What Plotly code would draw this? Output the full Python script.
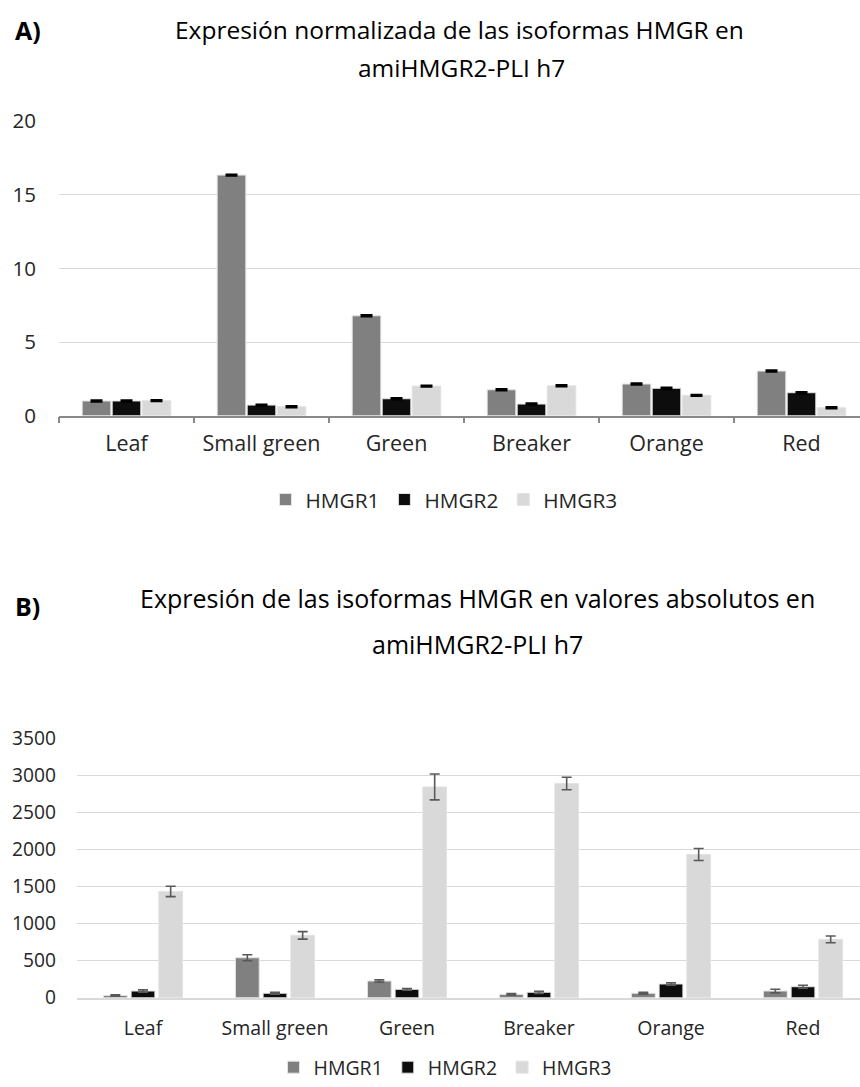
import plotly.graph_objects as go

# ---------------- data ----------------
categories = ["Leaf", "Small green", "Green", "Breaker", "Orange", "Red"]
series_names = ["HMGR1", "HMGR2", "HMGR3"]

# A) normalised expression
norm_hmgr1 = [1.0, 16.33, 6.78, 1.76, 2.15, 3.03]
norm_hmgr2 = [1.0, 0.72, 1.15, 0.79, 1.86, 1.56]
norm_hmgr3 = [1.02, 0.61, 2.01, 2.03, 1.38, 0.54]
norm_err1 = [0.04, 0.04, 0.04, 0.04, 0.04, 0.04]
norm_err2 = [0.05, 0.04, 0.05, 0.04, 0.05, 0.05]
norm_err3 = [0.04, 0.04, 0.04, 0.04, 0.04, 0.04]

# B) absolute expression
abs_hmgr1 = [30, 539, 225, 45, 60, 90]
abs_hmgr2 = [90, 60, 113, 73, 185, 148]
abs_hmgr3 = [1434, 841, 2844, 2890, 1933, 787]
abs_err1 = [10, 40, 15, 10, 12, 25]
abs_err2 = [15, 12, 12, 15, 15, 20]
abs_err3 = [70, 50, 175, 85, 81, 45]

# ---------------- style ----------------
W, H = 860, 1087
FONT = "Open Sans"
TXT = "#262626"
colors = ["#808080", "#0d0d0d", "#d9d9d9"]
GRID = "#d9d9d9"


def py(px):
    return 1 - px / H


fig = go.Figure()

top_group = 90 / 135
top_slot = top_group / 3
top_w = 0.212
bot_group = 83 / 132
bot_slot = bot_group / 3
bot_w = 0.18

norm_vals = [norm_hmgr1, norm_hmgr2, norm_hmgr3]
norm_errs = [norm_err1, norm_err2, norm_err3]
abs_vals = [abs_hmgr1, abs_hmgr2, abs_hmgr3]
abs_errs = [abs_err1, abs_err2, abs_err3]

for i, name in enumerate(series_names):
    fig.add_trace(go.Bar(
        x=categories, y=norm_vals[i], name=name,
        xaxis="x", yaxis="y", legend="legend",
        width=top_w, offset=-top_group / 2 + i * top_slot + (top_slot - top_w) / 2,
        marker=dict(color=colors[i], line=dict(color="#e3e3e3", width=1)),
        error_y=dict(type="data", array=norm_errs[i], color="#000000",
                     thickness=2.2, width=6),
    ))

for i, name in enumerate(series_names):
    fig.add_trace(go.Bar(
        x=categories, y=abs_vals[i], name=name,
        xaxis="x2", yaxis="y2", legend="legend2",
        width=bot_w, offset=-bot_group / 2 + i * bot_slot + (bot_slot - bot_w) / 2,
        marker=dict(color=colors[i], line=dict(color="#e3e3e3", width=1)),
        error_y=dict(type="data", array=abs_errs[i], color="#595959",
                     thickness=1.6, width=5),
    ))

fig.update_layout(
    width=W, height=H,
    margin=dict(l=0, r=0, t=0, b=0, autoexpand=False),
    paper_bgcolor="white", plot_bgcolor="white",
    barmode="overlay",
    font=dict(family=FONT, color=TXT),
    xaxis=dict(
        domain=[59 / W, 1], anchor="y", automargin=False,
        type="category", range=[-0.5, -0.5 + (W - 59) / 135],
        showline=True, linecolor="#898989", linewidth=1.5,
        ticks="outside", tickson="boundaries", ticklen=6, tickwidth=1.5,
        tickcolor="#898989", showgrid=False,
        tickfont=dict(family=FONT, size=21.5, color=TXT),
        ticklabelstandoff=8,
    ),
    yaxis=dict(
        domain=[py(415.7), py(121)], anchor="x", automargin=False,
        range=[0, 20], tickvals=[0, 5, 10, 15, 20],
        showgrid=True, gridcolor=GRID, gridwidth=1.3,
        zeroline=False, showline=False,
        tickfont=dict(family=FONT, size=20.5, color=TXT),
        ticklabelstandoff=22,
    ),
    xaxis2=dict(
        domain=[77 / W, 1], anchor="y2", automargin=False,
        type="category", range=[-0.5, -0.5 + (W - 77) / 132],
        showline=True, linecolor=GRID, linewidth=1.5,
        ticks="", showgrid=False,
        tickfont=dict(family=FONT, size=19.5, color=TXT),
        ticklabelstandoff=12,
    ),
    yaxis2=dict(
        domain=[py(997.7), py(738.3)], anchor="x2", automargin=False,
        range=[0, 3500], tickvals=[0, 500, 1000, 1500, 2000, 2500, 3000, 3500],
        showgrid=True, gridcolor=GRID, gridwidth=1.3,
        zeroline=False, showline=False,
        tickfont=dict(family=FONT, size=19.2, color=TXT),
        ticklabelstandoff=20,
    ),
    legend=dict(
        orientation="h", x=444 / W, xanchor="center", y=py(500), yanchor="middle",
        font=dict(family=FONT, size=20.8, color=TXT), bgcolor="rgba(0,0,0,0)",
        itemclick=False,
    ),
    legend2=dict(
        orientation="h", x=445 / W, xanchor="center", y=0, yanchor="bottom",
        font=dict(family=FONT, size=19.5, color=TXT), bgcolor="rgba(0,0,0,0)",
        itemclick=False,
    ),
    showlegend=True,
)

ann = [
    dict(text="<b>A)</b>", x=13 / W, y=py(30), xanchor="left", size=25),
    dict(text="Expresión normalizada de las isoformas HMGR en", x=460 / W, y=py(29), xanchor="center", size=24.5),
    dict(text="amiHMGR2-PLI h7", x=461 / W, y=py(67), xanchor="center", size=24.5),
    dict(text="<b>B)</b>", x=13 / W, y=py(606), xanchor="left", size=25),
    dict(text="Expresión de las isoformas HMGR en valores absolutos en", x=477 / W, y=py(598), xanchor="center", size=25),
    dict(text="amiHMGR2-PLI h7", x=477 / W, y=py(644), xanchor="center", size=25),
]
for a in ann:
    fig.add_annotation(
        text=a["text"], x=a["x"], y=a["y"], xref="paper", yref="paper",
        xanchor=a["xanchor"], yanchor="middle", showarrow=False,
        font=dict(family=FONT, size=a["size"], color="#000000"),
    )

fig.write_html(
    "out.html",
    config={"displayModeBar": False},
    post_script="document.body.style.margin='0';document.body.style.overflow='hidden';",
)
